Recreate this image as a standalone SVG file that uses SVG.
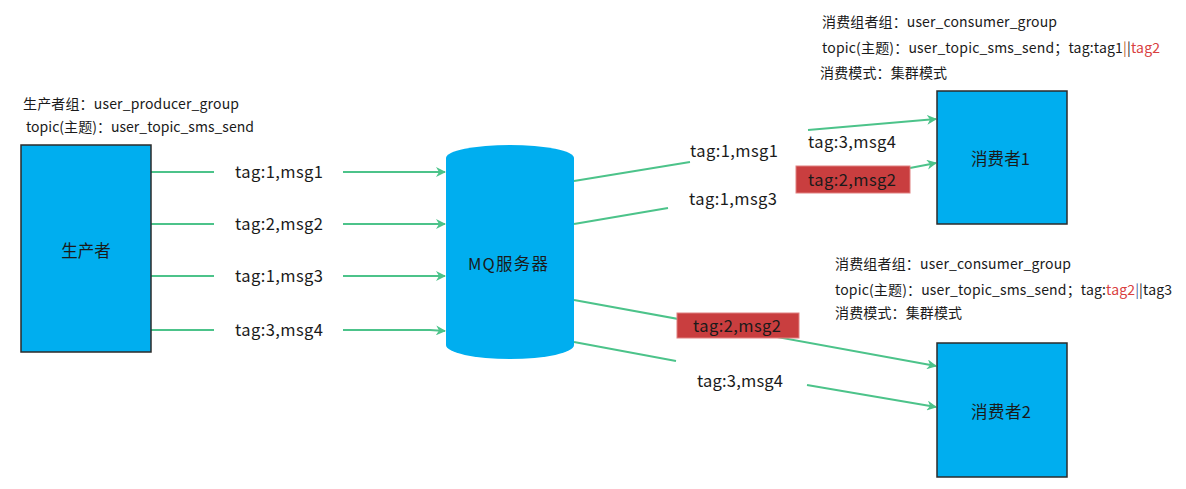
<svg xmlns="http://www.w3.org/2000/svg" width="1186" height="489" viewBox="0 0 1186 489">
<style>
text{font-family:"Noto Sans CJK SC","Noto Sans",sans-serif;fill:#1a1a1a}
.lbl{font-size:16.5px}
.note{font-size:14px}
.node{fill:#00AEEF}
.box{stroke:#2b2b2b;stroke-width:1.5}
.c{stroke:#4CC38A;stroke-width:2;fill:none}
.a{marker-end:url(#ah)}
.red{fill:#C93E3F;stroke:#E08080;stroke-width:1}
.rt{fill:#D9413F}
</style>
<defs>
<marker id="ah" viewBox="0 0 10 10" refX="9" refY="5" markerWidth="5" markerHeight="5" orient="auto" markerUnits="strokeWidth">
<path d="M0,0 L10,5 L0,10 L3,5 Z" fill="#4CC38A"/>
</marker>
</defs>
<g id="notes">
<text class="note" x="23" y="109" textLength="216">生产者组：user_producer_group</text>
<text class="note" x="26" y="132" textLength="228">topic(主题)：user_topic_sms_send</text>
<text class="note" x="822" y="27" textLength="235">消费组者组：user_consumer_group</text>
<text class="note" x="822" y="53" textLength="338">topic(主题)：user_topic_sms_send；tag:tag1<tspan fill="#B8632A">|</tspan>|<tspan class="rt">tag2</tspan></text>
<text class="note" x="820" y="78" textLength="127">消费模式：集群模式</text>
<text class="note" x="835" y="269" textLength="236">消费组者组：user_consumer_group</text>
<text class="note" x="835" y="295" textLength="337">topic(主题)：user_topic_sms_send；tag:<tspan class="rt">tag2</tspan><tspan fill="#4060A0">|</tspan>|tag3</text>
<text class="note" x="835" y="318" textLength="127">消费模式：集群模式</text>
</g>
<g id="connectors">
<line class="c" x1="151" y1="172" x2="214" y2="172"/>
<line class="c a" x1="343" y1="172" x2="445" y2="172"/>
<line class="c" x1="151" y1="224" x2="214" y2="224"/>
<line class="c a" x1="343" y1="224" x2="445" y2="224"/>
<line class="c" x1="151" y1="276" x2="214" y2="276"/>
<line class="c a" x1="343" y1="276" x2="445" y2="276"/>
<line class="c" x1="151" y1="330" x2="214" y2="330"/>
<path class="c a" d="M343,330 L430,330 L445,331"/>
<line class="c" x1="574" y1="181" x2="690" y2="162"/>
<line class="c" x1="574" y1="224" x2="668" y2="208"/>
<line class="c a" x1="808" y1="130" x2="936" y2="119"/>
<line class="c a" x1="910" y1="168" x2="936" y2="163"/>
<line class="c a" x1="574" y1="300" x2="936" y2="366"/>
<line class="c" x1="574" y1="342" x2="676" y2="361"/>
<line class="c a" x1="807" y1="385" x2="936" y2="407"/>
</g>
<g id="conn-labels">
<text class="lbl" x="235" y="178" textLength="88">tag:1,msg1</text>
<text class="lbl" x="235" y="230" textLength="88">tag:2,msg2</text>
<text class="lbl" x="235" y="282" textLength="88">tag:1,msg3</text>
<text class="lbl" x="235" y="336" textLength="88">tag:3,msg4</text>
<text class="lbl" x="690" y="157" textLength="88">tag:1,msg1</text>
<text class="lbl" x="689" y="205" textLength="88">tag:1,msg3</text>
<text class="lbl" x="808" y="148" textLength="88">tag:3,msg4</text>
<rect class="red" x="796" y="166" width="114" height="27"/>
<text class="lbl" x="808" y="186" textLength="88">tag:2,msg2</text>
<rect class="red" x="677" y="313" width="122" height="25"/>
<text class="lbl" x="693" y="332" textLength="88">tag:2,msg2</text>
<text class="lbl" x="697" y="387" textLength="86">tag:3,msg4</text>
</g>
<g id="producer">
<rect class="node box" x="21" y="145" width="130" height="207"/>
<text class="lbl" x="86" y="257" text-anchor="middle">生产者</text>
</g>
<g id="mq">
<path class="node" d="M446,158 A64,13 0 0 1 574,158 L574,345 A64,14 0 0 1 446,345 Z"/>
<text class="lbl" x="468" y="270" textLength="80">MQ服务器</text>
</g>
<g id="consumer1">
<rect class="node box" x="937" y="91" width="130" height="133"/>
<text class="lbl" x="971" y="165" textLength="59">消费者1</text>
</g>
<g id="consumer2">
<rect class="node box" x="937" y="343" width="130" height="134"/>
<text class="lbl" x="971" y="418" textLength="60">消费者2</text>
</g>
</svg>
